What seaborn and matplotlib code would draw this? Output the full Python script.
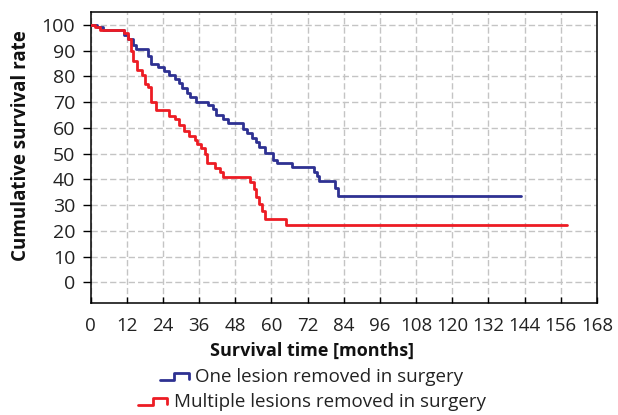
import matplotlib
matplotlib.use("Agg")
import matplotlib.pyplot as plt
import seaborn as sns
import pandas as pd
from matplotlib.legend_handler import HandlerBase
from matplotlib.lines import Line2D

# ---- data ----
one_time = [0, 2, 4, 11, 12.5, 14, 15, 19, 20, 22.5, 24.5, 26, 28, 29.5, 30.5, 32, 33, 35,
            39, 40.5, 41.5, 44, 45.5, 50.5, 52, 53.5, 55, 56, 58, 60.4, 61.7, 67, 74, 75, 75.8,
            81.2, 82.1, 142.7]
one_surv = [100, 99, 98, 96, 94.5, 92, 90.5, 88, 85, 83.5, 82, 80.5, 79, 77.5, 75.5, 73.5, 72, 70,
            69, 67.5, 65, 63.5, 62, 59.5, 58, 56, 54.5, 52.5, 50.3, 47.5, 46.2, 44.7, 43, 41.2, 39.2,
            36.5, 33.7, 33.7]

multi_time = [0, 1.5, 3, 11, 12.5, 13.5, 14, 15.5, 17, 18, 19, 20.2, 21.8, 26, 28, 29.5, 31,
              32.8, 34.5, 35.2, 36.5, 38, 38.5, 41.3, 43, 44, 53, 54.3, 55, 56, 56.8, 57.8, 65, 158.2]
multi_surv = [100, 99.3, 98, 96.8, 94.5, 90, 86, 82.5, 80.5, 77, 75.8, 70, 66.8, 64.8, 63.5, 61, 58.8,
              57, 55.2, 53.6, 52, 50, 46.5, 44.6, 42.7, 40.8, 38.9, 36.3, 33, 30.5, 27.9, 24.8, 22.2, 22.2]

group_labels = ["One lesion removed in surgery", "Multiple lesions removed in surgery"]
x_ticks = list(range(0, 169, 12))
y_ticks = list(range(0, 101, 10))

df = pd.concat([
    pd.DataFrame({"time": one_time, "surv": one_surv, "group": group_labels[0]}),
    pd.DataFrame({"time": multi_time, "surv": multi_surv, "group": group_labels[1]}),
], ignore_index=True)

blue = "#2e3192"
red = "#ed1c24"

sns.set_style("white")
plt.rcParams["font.family"] = ["Open Sans", "DejaVu Sans"]

fig = plt.figure(figsize=(6.18, 4.15), dpi=100)
ax = fig.add_axes([90.5 / 618, 1 - 303 / 415, (597 - 90.5) / 618, (303 - 12) / 415])

for lab, col in zip(group_labels, [blue, red]):
    sub = df[df["group"] == lab]
    sns.lineplot(data=sub, x="time", y="surv", ax=ax, color=col, lw=2.0,
                 drawstyle="steps-post", estimator=None, sort=False, legend=False, zorder=3)

ax.set_xlim(0, 168)
ax.set_ylim(-8, 105)
ax.set_xticks(x_ticks)
ax.set_yticks(y_ticks)
ax.grid(True, color="#c4c4c4", lw=1.0, linestyle=(0, (4.5, 2.2)))
for s in ax.spines.values():
    s.set_color("black")
    s.set_linewidth(1.1)

ax.tick_params(axis="y", direction="out", length=5.5, width=1.0, color="black",
               labelsize=14, labelcolor="#222222", pad=5.5, left=True)
ax.tick_params(axis="x", direction="in", length=4.5, width=1.0, color="black",
               labelsize=13.5, labelcolor="#222222", pad=10, bottom=True)

ax.set_xlabel("Survival time [months]", fontsize=13, fontweight="bold", color="#111111", va="center")
ax.set_ylabel("Cumulative survival rate", fontsize=13.5, fontweight="bold", color="#111111", va="center")
ax.xaxis.set_label_coords((312 - 90.5) / 506.5, (303 - 351) / 291)
ax.yaxis.set_label_coords((21 - 90.5) / 506.5, (303 - 146) / 291)


class StepHandler(HandlerBase):
    def create_artists(self, legend, orig_handle, xdescent, ydescent, width, height, fontsize, trans):
        x0 = -xdescent
        y0 = -ydescent
        lo = y0 + height * 0.15
        hi = y0 + height * 0.65
        xs = [x0, x0 + width * 0.5, x0 + width * 0.5, x0 + width, x0 + width]
        ys = [lo, lo, hi, hi, y0 + height * 0.22]
        ln = Line2D(xs, ys, color=orig_handle.get_color(), lw=2.0, transform=trans)
        return [ln]


h1 = Line2D([], [], color=blue)
h2 = Line2D([], [], color=red)
kw = dict(frameon=False, fontsize=13.5, handlelength=1.5, handletextpad=0.37,
          handler_map={Line2D: StepHandler()}, borderaxespad=0, borderpad=0)
leg1 = fig.legend([h1], [group_labels[0]], loc="center", bbox_to_anchor=(312 / 618, 1 - 377 / 415), **kw)
leg2 = fig.legend([h2], [group_labels[1]], loc="center", bbox_to_anchor=(312 / 618, 1 - 402 / 415), **kw)
for leg in (leg1, leg2):
    for t in leg.get_texts():
        t.set_color("#222222")

fig.savefig("out.png", dpi=100)
